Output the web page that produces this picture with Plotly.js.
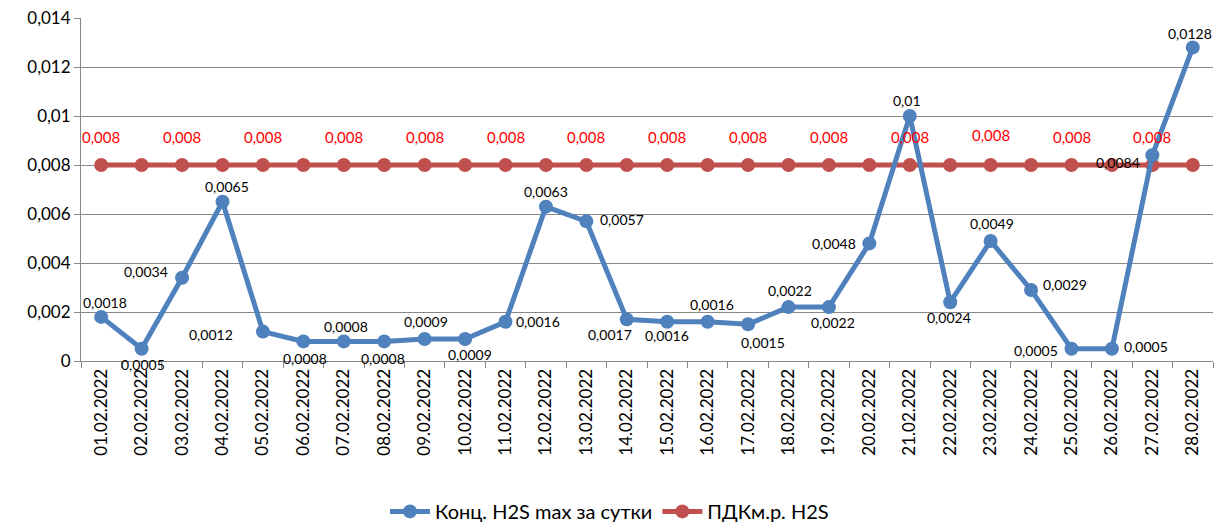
<!DOCTYPE html>
<html>
<head>
<meta charset="utf-8">
<script src="https://cdn.plot.ly/plotly-3.0.1.min.js"></script>
<style>
html,body{margin:0;padding:0;background:#fff;}
#chart{width:1219px;height:524px;}
</style>
</head>
<body>
<div id="chart"></div>
<script>
const dates = ["01.02.2022","02.02.2022","03.02.2022","04.02.2022","05.02.2022","06.02.2022","07.02.2022","08.02.2022","09.02.2022","10.02.2022","11.02.2022","12.02.2022","13.02.2022","14.02.2022","15.02.2022","16.02.2022","17.02.2022","18.02.2022","19.02.2022","20.02.2022","21.02.2022","22.02.2022","23.02.2022","24.02.2022","25.02.2022","26.02.2022","27.02.2022","28.02.2022"];
const h2sMax = [0.0018,0.0005,0.0034,0.0065,0.0012,0.0008,0.0008,0.0008,0.0009,0.0009,0.0016,0.0063,0.0057,0.0017,0.0016,0.0016,0.0015,0.0022,0.0022,0.0048,0.01,0.0024,0.0049,0.0029,0.0005,0.0005,0.0084,0.0128];
const pdk = [0.008,0.008,0.008,0.008,0.008,0.008,0.008,0.008,0.008,0.008,0.008,0.008,0.008,0.008,0.008,0.008,0.008,0.008,0.008,0.008,0.008,0.008,0.008,0.008,0.008,0.008,0.008,0.008];
const seriesNames = ["Конц. H2S max за сутки","ПДКм.р. H2S"];
const yTickVals = [0,0.002,0.004,0.006,0.008,0.01,0.012,0.014];
const yTickText = ["0","0,002","0,004","0,006","0,008","0,01","0,012","0,014"];

// label placement offsets (px) for blue series data labels
const blueShift = [
  [4,14],[1,-16],[-36,6],[4,15],[-52,-3],[2,-17],[2,15],[-1,-17],[1,17],[5,-16],
  [32,0],[0,15],[36,2],[-17,-15],[0,-14],[4,17],[15,-18],[1,17],[4,-15],[-35,0],
  [-3,16],[-1,-15],[1,17],[34,5],[-36,-2],[34,2],[-34,-7],[-3,14]
];
const fmt = v => String(v).replace('.', ',');

const annotations = [];
h2sMax.forEach((v,i)=>{
  annotations.push({x:dates[i], y:v, text:fmt(v), showarrow:false,
    xshift:blueShift[i][0], yshift:blueShift[i][1],
    font:{family:"Lato, sans-serif", size:14, color:"#000"}});
});
pdk.forEach((v,i)=>{
  if (i % 2 === 0) {
    annotations.push({x:dates[i], y:v, text:fmt(v), showarrow:false,
      xshift:0, yshift:(i===22?30:28),
      font:{family:"Lato, sans-serif", size:15, color:"#FF0000"}});
  }
});

const traces = [
  {x:dates, y:h2sMax, name:seriesNames[0], type:"scatter", mode:"lines+markers",
   line:{color:"#4F81BD", width:5}, marker:{color:"#4F81BD", size:14}},
  {x:dates, y:pdk, name:seriesNames[1], type:"scatter", mode:"lines+markers",
   line:{color:"#C0504D", width:5}, marker:{color:"#C0504D", size:14}}
];
// draw blue on top of red
const order = [traces[1], traces[0]];

const layout = {
  width:1219, height:524,
  margin:{l:81, r:6, t:18, b:163},
  paper_bgcolor:"#fff", plot_bgcolor:"#fff",
  font:{family:"Lato, sans-serif", color:"#000"},
  separators:", ",
  showlegend:true,
  legend:{orientation:"h", x:0.5, xanchor:"center", xref:"container", yref:"container",
    y:0.024, yanchor:"middle",
    font:{size:20, family:"Lato, sans-serif"}, traceorder:"reversed", itemwidth:40},
  xaxis:{type:"category", showgrid:false, showline:true, linecolor:"#888", linewidth:1,
    ticks:"outside", tickson:"boundaries", ticklen:6, tickcolor:"#888",
    tickangle:-90, tickfont:{size:17}, range:[-0.5, 27.5], automargin:false},
  yaxis:{range:[0,0.014], tickvals:yTickVals, ticktext:yTickText, showgrid:true,
    gridcolor:"#888", gridwidth:1, showline:true, linecolor:"#888", zeroline:false,
    ticks:"outside", ticklen:6, tickcolor:"#888", tickfont:{size:17}, automargin:false},
  annotations:annotations
};
Plotly.newPlot("chart", order, layout, {displayModeBar:false, staticPlot:true});
</script>
</body>
</html>
